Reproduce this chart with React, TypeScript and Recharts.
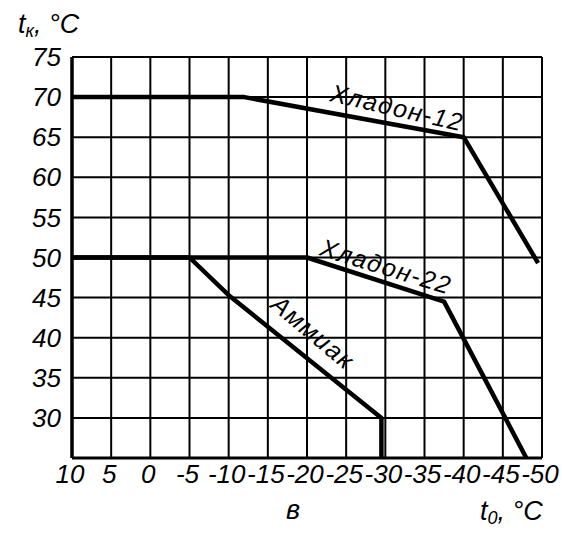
import React from 'react';
import { LineChart, Line, XAxis, YAxis, CartesianGrid, ReferenceDot } from 'recharts';

// t0 (evaporation) ticks run from +10 down to -50, tk (condensation) from 25 to 75
const T0_TICKS = [10, 5, 0, -5, -10, -15, -20, -25, -30, -35, -40, -45, -50];
const TK_TICKS = [25, 30, 35, 40, 45, 50, 55, 60, 65, 70, 75];

// Хладон-12
const freon12T0 = [10, -12, -40, -49.5];
const freon12Tk = [70, 70, 65, 49.3];

// Хладон-22
const freon22T0 = [10, -20, -37.5, -48];
const freon22Tk = [50, 50, 44.5, 25];

// Аммиак
const ammoniaT0 = [10, -5, -10, -29.5, -29.5];
const ammoniaTk = [50, 50, 45.3, 30, 25];

const toPoints = (t0: number[], tk: number[]) => t0.map((x, i) => ({ x, y: tk[i] }));

const FONT = "'Liberation Sans', Arial, sans-serif";
const INK = '#000';

const W = 562;
const H = 547;

function XTick(props: any) {
  const { x, y, payload } = props;
  return (
    <text x={x - 2} y={y + 17} textAnchor="middle" fontFamily={FONT} fontStyle="italic" fontSize={26} fill={INK}>
      {payload.value}
    </text>
  );
}

function YTick(props: any) {
  const { x, y, payload } = props;
  if (payload.value === 25) return null;
  return (
    <text x={x - 3} y={y} dy="0.35em" textAnchor="end" fontFamily={FONT} fontStyle="italic" fontSize={26} fill={INK}>
      {payload.value}
    </text>
  );
}

// rotated caption drawn along a curve
const caption = (text: string, angle: number) => (props: any) => {
  const { cx, cy } = props;
  return (
    <text
      x={cx}
      y={cy}
      textAnchor="middle"
      dominantBaseline="central"
      transform={`rotate(${angle} ${cx} ${cy})`}
      fontFamily={FONT}
      fontStyle="italic"
      fontSize={25}
      letterSpacing={1.5}
      fill={INK}
    >
      {text}
    </text>
  );
};

export default function App() {
  const lineProps = {
    type: 'linear' as const,
    dataKey: 'y',
    stroke: INK,
    strokeWidth: 4.5,
    dot: false,
    isAnimationActive: false,
    strokeLinejoin: 'round' as const,
  };

  return (
    <div style={{ position: 'absolute', left: 0, top: 0, width: W, height: H, background: '#fff' }}>
      <LineChart width={W} height={H} margin={{ top: 57, right: 20, bottom: 59, left: 12 }}>
        <CartesianGrid stroke={INK} strokeWidth={2} />
        <XAxis
          type="number"
          dataKey="x"
          domain={[-50, 10]}
          reversed
          ticks={T0_TICKS}
          interval={0}
          height={30}
          tickLine={false}
          axisLine={{ stroke: INK, strokeWidth: 3 }}
          tick={<XTick />}
          allowDataOverflow
        />
        <YAxis
          type="number"
          domain={[25, 75]}
          ticks={TK_TICKS}
          interval={0}
          width={60}
          tickLine={false}
          axisLine={{ stroke: INK, strokeWidth: 3.5 }}
          tick={<YTick />}
          allowDataOverflow
        />
        <Line data={toPoints(freon12T0, freon12Tk)} {...lineProps} />
        <Line data={toPoints(freon22T0, freon22Tk)} {...lineProps} />
        <Line data={toPoints(ammoniaT0, ammoniaTk)} {...lineProps} />
        <ReferenceDot x={-31.5} y={68.7} r={1} shape={caption('Хладон-12', 13)} />
        <ReferenceDot x={-30.1} y={48.9} r={1} shape={caption('Хладон-22', 17)} />
        <ReferenceDot x={-20.8} y={40.7} r={1} shape={caption('Аммиак', 40)} />
      </LineChart>
      <svg width={W} height={H} style={{ position: 'absolute', left: 0, top: 0, pointerEvents: 'none' }}>
        <text x={18} y={33} fontFamily={FONT} fontStyle="italic" fontSize={27} fill={INK}>
          t<tspan fontSize={18} dy={4}>к</tspan>
          <tspan dy={-4}>, °C</tspan>
        </text>
        <text x={293} y={519} textAnchor="middle" fontFamily={FONT} fontStyle="italic" fontSize={27} fill={INK}>
          в
        </text>
        <text x={480} y={520} fontFamily={FONT} fontStyle="italic" fontSize={27} fill={INK}>
          t<tspan fontSize={18} dy={4}>0</tspan>
          <tspan dy={-4}>, °C</tspan>
        </text>
      </svg>
    </div>
  );
}
